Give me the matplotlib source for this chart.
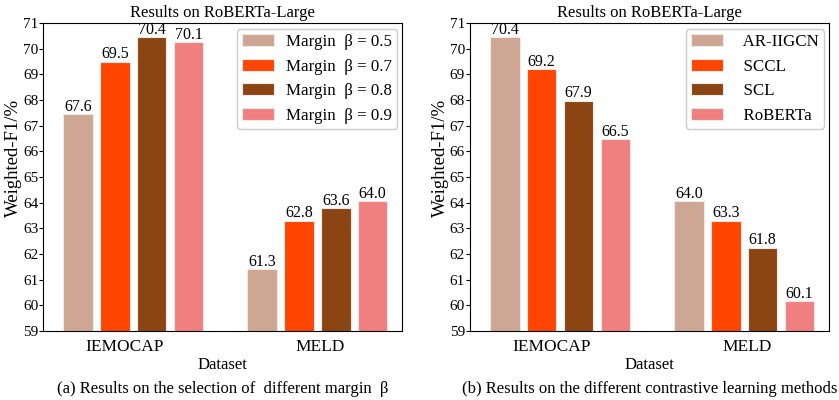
import matplotlib.pyplot as plt
import numpy as np

plt.rcParams["font.family"] = ["Liberation Serif", "DejaVu Serif"]
plt.rcParams["mathtext.fontset"] = "stix"

datasets = ["IEMOCAP", "MELD"]
colors = ["#CDA794", "#FF4500", "#8B4513", "#F08080"]

margin_labels = ["Margin  β = 0.5", "Margin  β = 0.7", "Margin  β = 0.8", "Margin  β = 0.9"]
margin_scores = [
    [67.45, 61.4],
    [69.5, 63.3],
    [70.45, 63.8],
    [70.25, 64.05],
]
margin_text = [
    ["67.6", "61.3"],
    ["69.5", "62.8"],
    ["70.4", "63.6"],
    ["70.1", "64.0"],
]

method_labels = ["  AR-IIGCN", "  SCCL", "  SCL", "  RoBERTa"]
method_scores = [
    [70.45, 64.05],
    [69.2, 63.3],
    [67.98, 62.25],
    [66.47, 60.15],
]
method_text = [
    ["70.4", "64.0"],
    ["69.2", "63.3"],
    ["67.9", "61.8"],
    ["66.5", "60.1"],
]

yticks = list(range(59, 72))


def draw_panel(ax, labels, scores, texts, caption, ylab_x):
    x = np.arange(len(datasets))
    step = 0.2
    for i, (lab, vals, txt) in enumerate(zip(labels, scores, texts)):
        pos = x + (i - 1.5) * step
        bars = ax.bar(pos, vals, width=0.16, color=colors[i], edgecolor="#f4e8e4",
                      linewidth=0.8, label=lab)
        for b, t in zip(bars, txt):
            ax.text(b.get_x() + b.get_width() / 2, b.get_height() - 0.03, t,
                    ha="center", va="bottom", fontsize=11.5)
    ax.set_xlim(-0.49, 1.46)
    ax.set_ylim(59, 71)
    ax.set_yticks(yticks)
    # tick labels in the original sit a little off the group centres
    ax.set_xticks(x + np.array([-0.045, 0.015]))
    ax.set_xticklabels(datasets, fontsize=12.5)
    ax.tick_params(axis="x", length=0, pad=6)
    ax.tick_params(axis="y", labelsize=11, length=3, pad=0.5)
    ax.set_xlabel("Dataset", fontsize=12, labelpad=1)
    ax.set_ylabel("Weighted-F1/%", fontsize=13.5)
    ax.yaxis.set_label_coords(ylab_x, 0.563)
    ax.set_title("Results on RoBERTa-Large", fontsize=12, pad=4)
    ax.legend(loc="upper right", fontsize=12.2, handlelength=1.9,
              handletextpad=0.7, labelspacing=0.5, borderpad=0.3,
              borderaxespad=0, bbox_to_anchor=(0.986, 0.98),
              framealpha=1, fancybox=True)
    ax.text(0.5, -0.188, caption, transform=ax.transAxes, ha="center",
            va="center", fontsize=12)


fig = plt.figure(figsize=(8.39, 4.0), dpi=100)
ax1 = fig.add_axes([0.0513, 0.1725, 0.428, 0.77])
ax2 = fig.add_axes([0.560, 0.1725, 0.428, 0.77])

draw_panel(ax1, margin_labels, margin_scores, margin_text,
           "(a) Results on the selection of  different margin  β", -0.058)
draw_panel(ax2, method_labels, method_scores, method_text,
           "(b) Results on the different contrastive learning methods", -0.058)

fig.savefig("out.png", dpi=100)
